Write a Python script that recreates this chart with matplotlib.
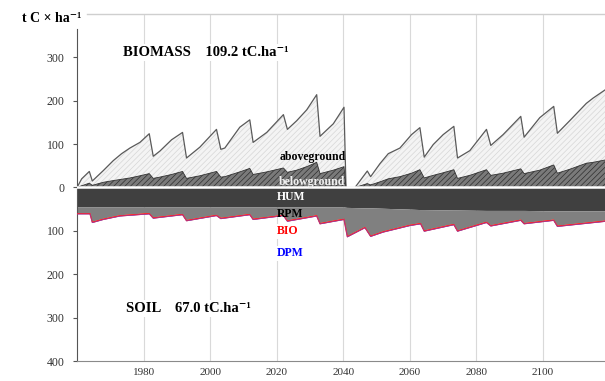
import matplotlib
matplotlib.use("Agg")
import matplotlib.pyplot as plt
import numpy as np

plt.rcParams['font.family'] = ['Liberation Serif', 'DejaVu Serif']
plt.rcParams['hatch.linewidth'] = 0.5

# ---------------- data ----------------
bio_years = [1960, 1961.4, 1963.7, 1964.6, 1967.9, 1970.9, 1973.4, 1975.9, 1978.9, 1981.7,
             1982.9, 1984.9, 1988.4, 1991.7, 1992.9, 1996.9, 2001.9, 2003.2, 2004.4, 2008.9,
             2011.9, 2012.9, 2017, 2022, 2023.2, 2026, 2029, 2032, 2033, 2037,
             2040.2, 2040.8, 2043.5, 2047.2, 2048.2, 2051, 2053.5, 2057, 2060.5, 2063,
             2064.3, 2067, 2070, 2073.2, 2074.3, 2078, 2083, 2084.3, 2088, 2093.3,
             2094.3, 2099, 2103.2, 2104.3, 2108, 2113, 2115, 2119]
biomass_total = [0, 20, 37, 15, 39, 62, 78, 91, 104, 124,
                 72, 84, 110, 127, 68, 93, 134, 88, 91, 139,
                 156, 104, 127, 168, 134, 154, 179, 214, 118, 147,
                 185, 0, 0, 38, 25, 55, 78, 91, 122, 138,
                 70, 99, 122, 141, 68, 85, 134, 97, 122, 164,
                 116, 161, 187, 125, 154, 194, 206, 227]
belowground = [0, 4, 10, 5, 12, 16, 19, 22, 27, 32,
               21, 24, 30, 37, 21, 27, 37, 24, 25, 36,
               44, 30, 36, 45, 35, 40, 48, 58, 32, 40,
               48, 0, 0, 9, 6, 13, 20, 25, 33, 41,
               22, 28, 34, 41, 21, 28, 41, 28, 33, 43,
               32, 40, 52, 33, 42, 56, 58, 64]

soil_years = [1960, 1963.9, 1964.6, 1967.9, 1972.9, 1981.7, 1982.9, 1991.7, 1992.9, 2001.9,
              2003.2, 2011.9, 2012.9, 2022, 2023.2, 2032, 2033, 2040.2, 2041.2, 2046.5,
              2048.2, 2052, 2060, 2063.2, 2064.3, 2073.2, 2074.3, 2083, 2084.3, 2093.3,
              2094.3, 2103.2, 2104.3, 2119]
hum = [46, 46, 46, 46, 46, 46, 46, 46, 46, 46,
       46, 46, 46, 46, 46, 46, 46, 46, 47, 48,
       48, 49, 51, 52, 52, 53, 53, 54, 54, 54,
       54, 55, 55, 55]
rpm = [13, 13, 33, 26, 18, 13, 23, 15, 29, 17,
       24, 15, 26, 17, 30, 18, 36, 26, 65, 43,
       63, 52, 35, 30, 47, 31, 46, 25, 33, 20,
       28, 19, 33, 21]
bio = [1.5, 1.5, 1.5, 1.5, 1.5, 1.5, 1.5, 1.5, 1.5, 1.5,
       1.5, 1.5, 1.5, 1.5, 1.5, 1.5, 1.5, 1.5, 1.5, 1.5,
       1.5, 1.5, 1.5, 1.5, 1.5, 1.5, 1.5, 1.5, 1.5, 1.5,
       1.5, 1.5, 1.5, 1.5]
dpm = [0.8, 0.8, 0.8, 0.8, 0.8, 0.8, 0.8, 0.8, 0.8, 0.8,
       0.8, 0.8, 0.8, 0.8, 0.8, 0.8, 0.8, 0.8, 0.8, 0.8,
       0.8, 0.8, 0.8, 0.8, 0.8, 0.8, 0.8, 0.8, 0.8, 0.8,
       0.8, 0.8, 0.8, 0.8]

x_ticks = [1980, 2000, 2020, 2040, 2060, 2080, 2100]
y_ticks = [300, 200, 100, 0, -100, -200, -300, -400]
y_tick_labels = ["300", "200", "100", "0", "100", "200", "300", "400"]

# ---------------- figure ----------------
fig = plt.figure(figsize=(6.05, 3.81), dpi=100)
ax = fig.add_axes([77 / 605, 1 - 361 / 381, 1 - 77 / 605, (361 - 14) / 381])
ax.set_xlim(1960, 2118.6)
ax.set_ylim(-400, 400)

bx = np.array(bio_years)
tot = np.array(biomass_total)
bel = np.array(belowground)

# aboveground (light hatched)
ax.fill_between(bx, bel, tot, facecolor='#f4f4f4', edgecolor='#d6d6d6',
                hatch='//////', linewidth=0, zorder=2)
ax.plot(bx, tot, color='#5a5a5a', lw=0.9, zorder=3)
# belowground (dark hatched)
ax.fill_between(bx, 0, bel, facecolor='#7a7a7a', edgecolor='#2e2e2e',
                hatch='//////', linewidth=0, zorder=2)
ax.plot(bx, bel, color='#333333', lw=0.6, zorder=3)

sx = np.array(soil_years)
h = np.array(hum)
r = np.array(rpm)
b = np.array(bio)
d = np.array(dpm)
l1 = -h
l2 = l1 - r
l3 = l2 - b
l4 = l3 - d
ax.fill_between(sx, 0, l1, facecolor='#404040', linewidth=0, zorder=2)
ax.fill_between(sx, l1, l2, facecolor='#808080', linewidth=0, zorder=2)
ax.fill_between(sx, l2, l3, facecolor='#ff0000', linewidth=0, zorder=2)
ax.fill_between(sx, l3, l4, facecolor='#2020ff', linewidth=0, zorder=2)
ax.plot(sx, l3, color='#ff2020', lw=0.9, zorder=3)
ax.plot(sx, l4, color='#8040c0', lw=0.4, zorder=3)

ax.axhline(0, color='white', lw=1.8, zorder=4)

# grid / spines
for xv in x_ticks:
    ax.axvline(xv, color='#d9d9d9', lw=0.8, zorder=0)
ax.spines['right'].set_visible(False)
ax.spines['top'].set_color('#cfcfcf')
ax.spines['top'].set_linewidth(1.0)
ax.spines['top'].set_bounds(1963, 2118.6)
ax.spines['left'].set_color('#555555')
ax.spines['left'].set_bounds(-400, 365)
ax.spines['bottom'].set_color('#8a8a8a')

ax.set_xticks(x_ticks)
ax.set_xticklabels([str(v) for v in x_ticks], fontsize=8, color='#333333')
ax.tick_params(axis='x', length=0, pad=5)
ax.set_yticks(y_ticks)
ax.set_yticklabels(y_tick_labels, fontsize=8.5, color='#333333')
ax.tick_params(axis='y', length=3, width=0.8, color='#555555', pad=6)

# texts
box = dict(facecolor='white', edgecolor='none', pad=1.5)
ax.text(1973.8, 311, "BIOMASS    109.2 tC.ha⁻¹", fontsize=10.5, fontweight='bold',
        va='center', ha='left', bbox=box, zorder=5)
ax.text(1974.7, -279, "SOIL    67.0 tC.ha⁻¹", fontsize=10.5, fontweight='bold',
        va='center', ha='left', bbox=box, zorder=5)
fig.text(81 / 605, 1 - 18 / 381, "t C × ha⁻¹", fontsize=10, fontweight='bold',
         ha='right', va='center')

lab_x = 2019.9
ax.text(2040.9, 71, "aboveground", fontsize=8.5, fontweight='bold', color='black',
        ha='right', va='center', zorder=5)
ax.text(2040.6, 13, "belowground", fontsize=8.5, fontweight='bold', color='#f0f0f0',
        ha='right', va='center', zorder=5)
ax.text(lab_x, -23, "HUM", fontsize=8.5, fontweight='bold', color='white',
        ha='left', va='center', zorder=5)
ax.text(lab_x, -60, "RPM", fontsize=8.5, fontweight='bold', color='black',
        ha='left', va='center', zorder=5)
ax.text(lab_x, -101, "BIO", fontsize=8.5, fontweight='bold', color='#ff0000',
        ha='left', va='center', zorder=5, bbox=dict(facecolor='white', edgecolor='none', pad=1))
ax.text(lab_x, -152, "DPM", fontsize=8.5, fontweight='bold', color='#0000ff',
        ha='left', va='center', zorder=5, bbox=dict(facecolor='white', edgecolor='none', pad=1))

fig.savefig("out.png", dpi=100)
